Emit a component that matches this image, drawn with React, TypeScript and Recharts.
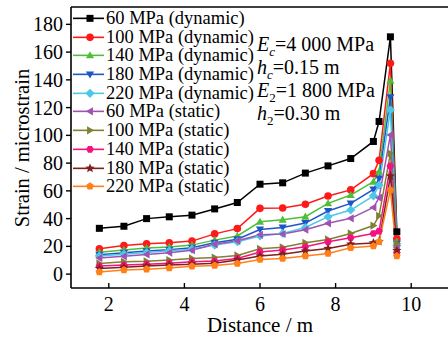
import React from 'react';
import { LineChart, Line, XAxis, YAxis, Legend, ReferenceLine } from 'recharts';

const distance = [1.75, 2.4, 3.0, 3.6, 4.2, 4.8, 5.4, 6.0, 6.6, 7.2, 7.8, 8.4, 9.0, 9.15, 9.45, 9.62];

const mpa60Dynamic = [33, 34.5, 40, 41.3, 42.5, 47, 51.6, 64.8, 65.8, 72.8, 78, 83.3, 95.6, 110, 171, 30.5];
const mpa100Dynamic = [18.3, 20.6, 21.8, 22.6, 23.8, 29, 32.8, 47.4, 47.6, 50.3, 56.3, 60.7, 72.4, 82, 152, 25.5];
const mpa140Dynamic = [15.8, 17.4, 18.8, 19.6, 20.9, 24.5, 27.5, 37.7, 39.2, 41.4, 51, 57, 66.6, 73.8, 139.5, 23.5];
const mpa180Dynamic = [14, 15.4, 16.6, 17.6, 19, 22.6, 25.2, 32.2, 33.6, 36.8, 45.5, 51, 61, 69, 127.5, 22];
const mpa220Dynamic = [13, 14.4, 15.6, 16.8, 18, 20.9, 23.3, 27.5, 29.3, 33.6, 41.4, 46.2, 56.4, 64, 118.3, 20.5];
const mpa60Static = [11.6, 12.8, 14.2, 15.4, 17.2, 21.5, 24, 28.3, 28.9, 32, 36.6, 40.2, 48, 55, 100.3, 19];
const mpa100Static = [7.7, 8.9, 9.2, 10.1, 11.3, 12, 13.5, 18.3, 19.3, 22.6, 25, 29.3, 35, 42, 87, 22];
const mpa140Static = [5.8, 6.5, 7.2, 7.9, 8.9, 9.4, 11.3, 16, 17.3, 19.7, 23.3, 26.2, 29.3, 31, 78, 15.5];
const mpa180Static = [4.1, 5, 5.8, 6.5, 7.2, 7.9, 10.1, 13, 14.4, 16.6, 18.5, 21.6, 22.5, 23.5, 70.7, 17];
const mpa220Static = [1.5, 2.9, 3.6, 4.5, 5.6, 6.2, 7.7, 10.6, 11.3, 13, 14.9, 19, 20.2, 23.3, 60.6, 13];

const seriesNames = [
  '60 MPa (dynamic)', '100 MPa (dynamic)', '140 MPa (dynamic)', '180 MPa (dynamic)', '220 MPa (dynamic)',
  '60 MPa (static)', '100 MPa (static)', '140 MPa (static)', '180 MPa (static)', '220 MPa (static)',
];
const seriesValues = [
  mpa60Dynamic, mpa100Dynamic, mpa140Dynamic, mpa180Dynamic, mpa220Dynamic,
  mpa60Static, mpa100Static, mpa140Static, mpa180Static, mpa220Static,
];
const xTicks = [2, 4, 6, 8, 10];
const yTicks = [0, 20, 40, 60, 80, 100, 120, 140, 160, 180];

const colors = ['#000000', '#ff1a1a', '#4fbf3a', '#1f55c8', '#4cc8e6', '#a052b3', '#808033', '#f4127f', '#7f1f1f', '#ff8019'];
const shapes = ['square', 'circle', 'up', 'down', 'diamond', 'left', 'right', 'hexagon', 'star', 'pentagon'];

const series = seriesNames.map((name, i) => ({ key: 's' + i, name, color: colors[i], shape: shapes[i] }));

const data = distance.map((d, j) => {
  const row: Record<string, number> = { distance: d };
  seriesValues.forEach((vals, i) => { row['s' + i] = vals[j]; });
  return row;
});

const FONT = "Liberation Serif, DejaVu Serif, serif";

function poly(cx: number, cy: number, n: number, r: number, rot: number) {
  const pts: string[] = [];
  for (let k = 0; k < n; k++) {
    const a = rot + (k * 2 * Math.PI) / n;
    pts.push(`${cx + r * Math.cos(a)},${cy + r * Math.sin(a)}`);
  }
  return pts.join(' ');
}

function star(cx: number, cy: number, r: number) {
  const pts: string[] = [];
  for (let k = 0; k < 10; k++) {
    const a = -Math.PI / 2 + (k * Math.PI) / 5;
    const rr = k % 2 === 0 ? r : r * 0.45;
    pts.push(`${cx + rr * Math.cos(a)},${cy + rr * Math.sin(a)}`);
  }
  return pts.join(' ');
}

function Marker({ shape, cx, cy, color }: { shape: string; cx: number; cy: number; color: string }) {
  const s = 3.5;
  switch (shape) {
    case 'square':
      return <rect x={cx - s} y={cy - s} width={2 * s} height={2 * s} fill={color} />;
    case 'circle':
      return <circle cx={cx} cy={cy} r={s + 0.3} fill={color} />;
    case 'up':
      return <polygon points={poly(cx, cy + 0.6, 3, s * 1.35, -Math.PI / 2)} fill={color} />;
    case 'down':
      return <polygon points={poly(cx, cy - 0.6, 3, s * 1.35, Math.PI / 2)} fill={color} />;
    case 'diamond':
      return <polygon points={poly(cx, cy, 4, s * 1.3, 0)} fill={color} />;
    case 'left':
      return <polygon points={poly(cx + 0.6, cy, 3, s * 1.35, Math.PI)} fill={color} />;
    case 'right':
      return <polygon points={poly(cx - 0.6, cy, 3, s * 1.35, 0)} fill={color} />;
    case 'hexagon':
      return <polygon points={poly(cx, cy, 6, s * 1.1, 0)} fill={color} />;
    case 'star':
      return <polygon points={star(cx, cy, s * 1.4)} fill={color} />;
    case 'pentagon':
      return <polygon points={poly(cx, cy, 5, s * 1.15, -Math.PI / 2)} fill={color} />;
    default:
      return <circle cx={cx} cy={cy} r={s} fill={color} />;
  }
}

const renderLegend = () => (
  <div style={{ fontFamily: FONT, fontSize: 18.5, color: '#000' }}>
    {series.map((s) => (
      <div key={s.key} style={{ display: 'flex', alignItems: 'center', height: 18.7, whiteSpace: 'nowrap' }}>
        <svg width={33} height={18.7} style={{ display: 'block' }}>
          <line x1={0} x2={31} y1={9.35} y2={9.35} stroke={s.color} strokeWidth={1.6} />
          <Marker shape={s.shape} cx={17} cy={9.35} color={s.color} />
        </svg>
        <span style={{ lineHeight: '18.7px' }}>{s.name}</span>
      </div>
    ))}
  </div>
);

const annStyle: React.CSSProperties = { height: 23, lineHeight: '23px', whiteSpace: 'nowrap' };
const subStyle: React.CSSProperties = { fontSize: 13, verticalAlign: -5 };

export default function App() {
  return (
    <div style={{ position: 'absolute', left: 0, top: 0, width: 448, height: 340, overflow: 'hidden', background: '#fff' }}>
      <LineChart width={450} height={340} data={data} margin={{ top: 7, right: 1, left: 0, bottom: 0 }}>
        <XAxis
          dataKey="distance"
          type="number"
          domain={[1, 11]}
          ticks={xTicks}
          interval={0}
          allowDataOverflow
          axisLine={{ stroke: '#000', strokeWidth: 1.6 }}
          tickLine={{ stroke: '#000', strokeWidth: 1.4 }}
          tickSize={-5}
          tickMargin={14}
          height={52}
          tick={{ fill: '#000', fontSize: 20, fontFamily: FONT }}
          label={{
            content: () => (
              <text x={260} y={325} textAnchor="middle" dominantBaseline="central" fontSize={21} fontFamily={FONT} fill="#000">
                Distance / m
              </text>
            ),
          }}
        />
        <YAxis
          type="number"
          domain={[-10, 192.5]}
          ticks={yTicks}
          interval={0}
          allowDataOverflow
          width={71}
          axisLine={{ stroke: '#000', strokeWidth: 1.6 }}
          tickLine={{ stroke: '#000', strokeWidth: 1.4 }}
          tickSize={5}
          tickMargin={3}
          tick={{ fill: '#000', fontSize: 20, fontFamily: FONT }}
          label={{
            content: () => (
              <text x={22} y={148} transform="rotate(-90 22 148)" textAnchor="middle" dominantBaseline="central" fontSize={20.5} fontFamily={FONT} fill="#000">
                Strain / microstrain
              </text>
            ),
          }}
        />
        <ReferenceLine y={192.5} stroke="#000" strokeWidth={1.6} />
        <Legend
          layout="vertical"
          align="center"
          verticalAlign="middle"
          content={renderLegend}
          wrapperStyle={{ left: 73, top: 9, width: 190, height: 190 }}
        />
        {series.map((s) => (
          <Line
            key={s.key}
            dataKey={s.key}
            name={s.name}
            stroke={s.color}
            strokeWidth={1.5}
            isAnimationActive={false}
            dot={(p: any) => <Marker key={`${s.key}-${p.index}`} shape={s.shape} cx={p.cx} cy={p.cy} color={s.color} />}
            activeDot={false}
          />
        ))}
      </LineChart>
      <div style={{ position: 'absolute', left: 257, top: 32.5, fontFamily: FONT, fontSize: 20, color: '#000' }}>
        <div style={annStyle}><i>E</i><i style={subStyle}>c</i>=4 000 MPa</div>
        <div style={annStyle}><i>h</i><i style={subStyle}>c</i>=0.15 m</div>
        <div style={annStyle}><i>E</i><span style={subStyle}>2</span>=1 800 MPa</div>
        <div style={annStyle}><i>h</i><span style={subStyle}>2</span>=0.30 m</div>
      </div>
    </div>
  );
}
